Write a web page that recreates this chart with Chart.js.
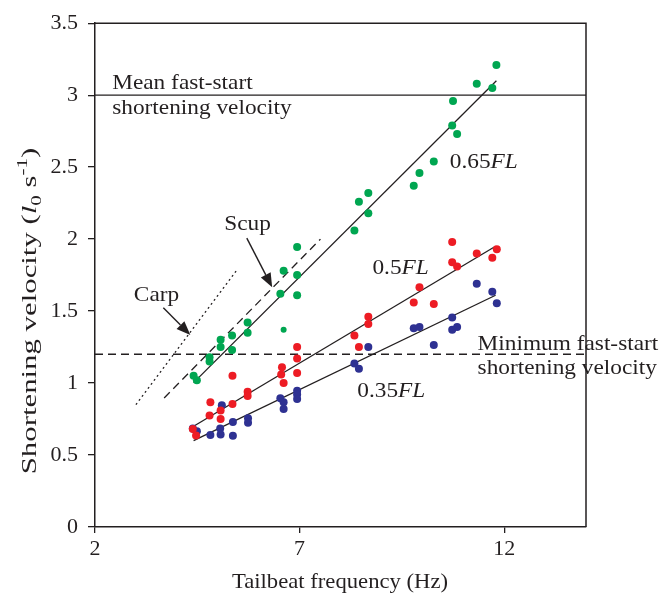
<!DOCTYPE html>
<html><head><meta charset="utf-8">
<script src="https://cdn.jsdelivr.net/npm/chart.js@4/dist/chart.umd.min.js"></script>
<style>html,body{margin:0;padding:0;background:#fff}</style>
</head><body>
<canvas id="c" width="664" height="602"></canvas>
<script>
// ---- data ----
const xTicks = [2, 7, 12];
const green065 = [[4.41,1.05],[4.49,1.02],[4.80,1.18],[4.80,1.15],[5.07,1.30],[5.07,1.25],[5.35,1.33],[5.35,1.23],[5.73,1.42],[5.73,1.35],[6.53,1.62],[6.61,1.78],[6.94,1.75],[6.94,1.61],[6.94,1.945],[8.34,2.06],[8.45,2.26],[8.68,2.32],[8.68,2.18],[9.79,2.37],[9.93,2.46],[10.28,2.54],[10.73,2.79],[10.75,2.96],[10.85,2.73],[11.33,3.08],[11.71,3.05],[11.81,3.21]];
const green065Small = [[6.61,1.37]];
const red050 = [[4.39,0.68],[4.47,0.635],[4.80,0.775],[4.82,0.867],[5.07,0.81],[5.07,0.75],[5.36,1.05],[5.36,0.855],[5.73,0.94],[5.73,0.91],[6.55,1.06],[6.57,1.11],[6.61,1.00],[6.94,1.25],[6.94,1.17],[6.94,1.07],[8.34,1.33],[8.45,1.25],[8.68,1.46],[8.68,1.41],[9.79,1.56],[9.93,1.665],[10.28,1.55],[10.73,1.98],[10.73,1.84],[10.85,1.81],[11.33,1.90],[11.71,1.87],[11.82,1.93]];
const blue035 = [[4.39,0.684],[4.49,0.666],[4.82,0.64],[5.06,0.684],[5.07,0.643],[5.10,0.845],[5.37,0.73],[5.37,0.634],[5.74,0.755],[5.74,0.725],[6.53,0.894],[6.61,0.867],[6.61,0.82],[6.94,0.946],[6.94,0.92],[6.94,0.89],[8.34,1.135],[8.45,1.10],[8.68,1.25],[9.79,1.38],[9.93,1.39],[10.28,1.265],[10.73,1.455],[10.73,1.37],[10.85,1.39],[11.33,1.69],[11.71,1.635],[11.82,1.555]];
const fit065 = [[4.41,1.003],[11.81,3.10]];
const fit050 = [[4.41,0.70],[11.79,1.95]];
const fit035 = [[4.41,0.60],[11.79,1.61]];
const scupLine = [[3.69,0.896],[7.51,2.0]];
const carpLine = [[3.0,0.85],[5.48,1.79]];
const meanFastStart = 3.0;
const minFastStart = 1.2;
const xRange = [2, 14];

// ---- annotation texts (data coords) ----
const labels = [
  {x:2.42, y:3.044, parts:[["Mean fast-start",false]]},
  {x:2.42, y:2.866, parts:[["shortening velocity",false]]},
  {x:11.35, y:1.231, parts:[["Minimum fast-start",false]]},
  {x:11.35, y:1.06, parts:[["shortening velocity",false]]},
  {x:10.67, y:2.494, parts:[["0.65",false],["FL",true]]},
  {x:8.78, y:1.756, parts:[["0.5",false],["FL",true]]},
  {x:8.41, y:0.90, parts:[["0.35",false],["FL",true]]},
  {x:5.16, y:2.06, parts:[["Scup",false]]},
  {x:2.95, y:1.571, parts:[["Carp",false]]}
];
const arrows = [
  {from:[5.71,2.007], to:[6.33,1.665]},
  {from:[3.67,1.523], to:[4.33,1.334]}
];

const pts = a => a.map(p => ({x:p[0], y:p[1]}));
const INK = '#231f20';
const FONT = '"Liberation Serif", "Times New Roman", serif';
const SX = 1.06;

const overlay = {
  id:'overlay',
  afterDraw(chart){
    const ctx = chart.ctx, xs = chart.scales.x, ys = chart.scales.y, ca = chart.chartArea;
    ctx.save();
    // frame top & right
    ctx.strokeStyle = INK; ctx.lineWidth = 1.5;
    ctx.beginPath();
    ctx.moveTo(ca.left, ca.top); ctx.lineTo(ca.right, ca.top); ctx.lineTo(ca.right, ca.bottom);
    ctx.stroke();
    // labels
    ctx.fillStyle = INK; ctx.textBaseline = 'alphabetic'; ctx.textAlign = 'left';
    labels.forEach(l => {
      const px0 = xs.getPixelForValue(l.x); const py = ys.getPixelForValue(l.y);
      ctx.save(); ctx.translate(px0, py); ctx.scale(SX, 1);
      let px = 0;
      l.parts.forEach(([t, it]) => {
        ctx.font = (it ? 'italic ' : '') + '22px ' + FONT;
        ctx.fillText(t, px, 0);
        px += ctx.measureText(t).width;
      });
      ctx.restore();
    });
    // arrows
    arrows.forEach(a => {
      const x1 = xs.getPixelForValue(a.from[0]), y1 = ys.getPixelForValue(a.from[1]);
      const x2 = xs.getPixelForValue(a.to[0]), y2 = ys.getPixelForValue(a.to[1]);
      const ang = Math.atan2(y2-y1, x2-x1), L = 14, W = 5.5;
      const bx = x2 - L*Math.cos(ang), by = y2 - L*Math.sin(ang);
      ctx.strokeStyle = INK; ctx.lineWidth = 1.4;
      ctx.beginPath(); ctx.moveTo(x1,y1); ctx.lineTo(bx,by); ctx.stroke();
      ctx.beginPath();
      ctx.moveTo(x2,y2);
      ctx.lineTo(bx + W*Math.sin(ang), by - W*Math.cos(ang));
      ctx.lineTo(bx - W*Math.sin(ang), by + W*Math.cos(ang));
      ctx.closePath(); ctx.fill();
    });
    // x title
    ctx.save();
    ctx.font = '22px ' + FONT; ctx.textAlign = 'center';
    ctx.translate(340, 588); ctx.scale(1.03, 1);
    ctx.fillText('Tailbeat frequency (Hz)', 0, 0);
    ctx.restore();
    // y title with italic l, subscript 0, superscript -1
    ctx.translate(36, 311); ctx.rotate(-Math.PI/2); ctx.scale(1.4, 1);
    const segs = [
      {t:'Shortening velocity (', f:'22px '+FONT, dy:0},
      {t:'l', f:'italic 22px '+FONT, dy:0},
      {t:'0', f:'15px '+FONT, dy:5},
      {t:' s', f:'22px '+FONT, dy:0},
      {t:'-1', f:'15px '+FONT, dy:-9},
      {t:')', f:'22px '+FONT, dy:0}
    ];
    let total = 0;
    segs.forEach(s => { ctx.font = s.f; s.w = ctx.measureText(s.t).width; total += s.w; });
    let x = -total/2; ctx.textAlign = 'left';
    segs.forEach(s => { ctx.font = s.f; ctx.fillText(s.t, x, s.dy); x += s.w; });
    ctx.restore();
  }
};

const lineDs = (data, dash, w) => ({type:'line', data:pts(data), borderColor:INK, borderWidth:w||1.3, borderDash:dash||[], pointRadius:0, fill:false, showLine:true, order:2});

new Chart(document.getElementById('c'), {
  type:'scatter',
  data:{datasets:[
    lineDs([[xRange[0],meanFastStart],[xRange[1],meanFastStart]], [], 1.4),
    lineDs([[xRange[0],minFastStart],[xRange[1],minFastStart]], [8,5], 1.4),
    lineDs(fit065), lineDs(fit050), lineDs(fit035),
    lineDs(scupLine, [8,5]), lineDs(carpLine, [2,3]),
    {data:pts(green065), backgroundColor:'#00a651', borderWidth:0, pointRadius:4, order:1},
    {data:pts(green065Small), backgroundColor:'#00a651', borderWidth:0, pointRadius:3, order:1},
    {data:pts(red050), backgroundColor:'#ed1c24', borderWidth:0, pointRadius:4, order:1},
    {data:pts(blue035), backgroundColor:'#2e3192', borderWidth:0, pointRadius:4, order:1}
  ]},
  options:{
    responsive:false, animation:false, devicePixelRatio:1,
    layout:{padding:{top:15, right:78, left:0, bottom:0}},
    plugins:{legend:{display:false}, tooltip:{enabled:false}},
    scales:{
      x:{type:'linear', min:xRange[0], max:xRange[1],
        afterBuildTicks:s => { s.ticks = xTicks.map(v => ({value:v})); },
        afterFit:s => { s.height = 75; },
        grid:{display:true, drawOnChartArea:false, drawTicks:true, tickLength:6, color:INK, lineWidth:1.3},
        border:{display:true, color:INK, width:1.5},
        ticks:{color:INK, font:{family:FONT, size:22}, padding:3, maxRotation:0}
      },
      y:{min:0, max:3.5,
        afterFit:s => { s.width = 95; },
        grid:{display:true, drawOnChartArea:false, drawTicks:true, tickLength:7, color:INK, lineWidth:1.3},
        border:{display:true, color:INK, width:1.5},
        ticks:{stepSize:0.5, color:INK, font:{family:FONT, size:22}, padding:10,
          callback:v => String(Math.round(v*10)/10)}
      }
    }
  },
  plugins:[overlay]
});
</script>
</body></html>
